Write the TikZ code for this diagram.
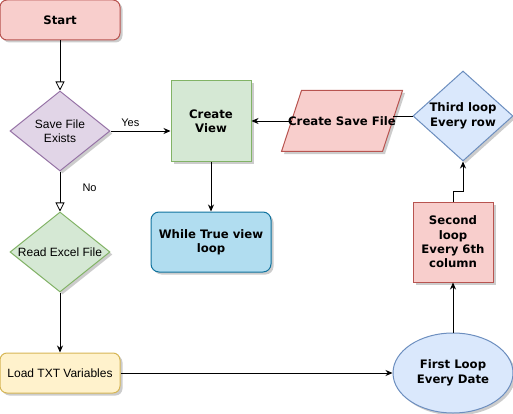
\documentclass[tikz,border=0pt]{standalone}
\usepackage{fontspec}
\setmainfont{Liberation Sans}
\newfontfamily\boldsans{DejaVu Sans}
\usetikzlibrary{positioning,shapes.geometric,shadows,arrows.meta}

\definecolor{redfill}{HTML}{F8CECC}
\definecolor{redline}{HTML}{B85450}
\definecolor{purplefill}{HTML}{E1D5E7}
\definecolor{purpleline}{HTML}{9673A6}
\definecolor{greenfill}{HTML}{D5E8D4}
\definecolor{greenline}{HTML}{82B366}
\definecolor{yellowfill}{HTML}{FFF2CC}
\definecolor{yellowline}{HTML}{D6B656}
\definecolor{bluefill}{HTML}{DAE8FC}
\definecolor{blueline}{HTML}{6C8EBF}
\definecolor{cyanfill}{HTML}{B1DDF0}
\definecolor{cyanline}{HTML}{10739E}

\begin{document}
\begin{tikzpicture}[
    x=1pt, y=1pt,
    every node/.style={font=\fontsize{12pt}{14.4pt}\selectfont, align=center, inner sep=0pt, line width=1pt},
    boldtext/.style={font=\boldsans\bfseries\fontsize{11.7pt}{14.4pt}\selectfont},
    edgelabel/.style={font=\fontsize{11pt}{13pt}\selectfont},
    boxshadow/.style={drop shadow={shadow xshift=2.5pt, shadow yshift=-2.5pt, fill=black, opacity=0.2}},
    startbox/.style={rectangle, rounded corners=7pt, draw, minimum width=120pt, minimum height=40pt, boxshadow},
    squarebox/.style={rectangle, draw, minimum width=80pt, minimum height=80pt, boxshadow},
    choice/.style={diamond, aspect=1.25, draw, minimum width=100pt, minimum height=80pt, boxshadow},
    savebox/.style={draw=redline, fill=redfill, line width=1pt, boxshadow},
    flow/.style={-{Stealth[length=7pt, width=6pt]}, line width=0.8pt},
    openflow/.style={-{Triangle[open, length=9pt, width=9pt, fill=white]}, line width=0.8pt}
]
    \useasboundingbox (0,0) rectangle (513,-414);

    % left column
    \node[startbox, boldtext, fill=redfill, draw=redline] (start) at (60,-20) {Start};
    \node[choice, fill=purplefill, draw=purpleline, below=50pt of start] (exists) {Save File\\Exists};
    \node[choice, fill=greenfill, draw=greenline, below=40pt of exists] (read) {Read Excel File};
    \node[startbox, fill=yellowfill, draw=yellowline, below=60pt of read] (load) {Load TXT Variables};

    % middle
    \node[squarebox, boldtext, fill=greenfill, draw=greenline, right=60pt of exists, yshift=10pt] (view) {Create\\View};
    \node[startbox, boldtext, fill=cyanfill, draw=cyanline, rounded corners=8pt, minimum height=60pt,
        below=50pt of view] (whileloop) {While True view\\loop};

    % right column, the parallelogram is drawn round an empty node
    \node[rectangle, minimum width=100pt, minimum height=60pt, right=40pt of view] (savefile) {};
    \draw[savebox] ([xshift=-10pt]savefile.south west) -- ([xshift=10pt]savefile.north west)
        -- ([xshift=10pt]savefile.north east) -- ([xshift=-10pt]savefile.south east) -- cycle;
    \node[boldtext] (savetext) at (savefile) {Create Save File};
    \node[choice, boldtext, aspect=1.11, minimum height=90pt, fill=bluefill, draw=blueline,
        right=20pt of savefile, yshift=5pt] (third) {Third loop\\Every row};
    \node[squarebox, boldtext, fill=redfill, draw=redline, below=40pt of third, xshift=-10pt] (second) {Second\\loop\\Every 6th\\column};
    \node[ellipse, boldtext, draw=blueline, fill=bluefill, minimum width=120pt, minimum height=80pt,
        boxshadow, below=50pt of second] (first) {First Loop\\Every Date};

    % connectors
    \draw[openflow] (start) -- (exists);
    \draw[openflow] (exists) -- node[pos=0.4, right=22pt, edgelabel] (nolabel) {No} (read);
    \draw[flow] (exists.east) -- node[pos=0.33, above=4pt, edgelabel] (yeslabel) {Yes} (exists.east -| view.west);
    \draw[flow] (view) -- (whileloop);
    \draw[flow] (read) -- (load);
    \draw[flow] (load) -- (first);
    \draw[flow] (first) -- (second);
    \draw[flow] (second.north) -- ++(0,10) -| (third.south);
    \draw[line width=0.8pt] (third.west) -- (third.west -| savefile.east);
    \draw[flow] (savefile) -- (view);
\end{tikzpicture}
\end{document}
